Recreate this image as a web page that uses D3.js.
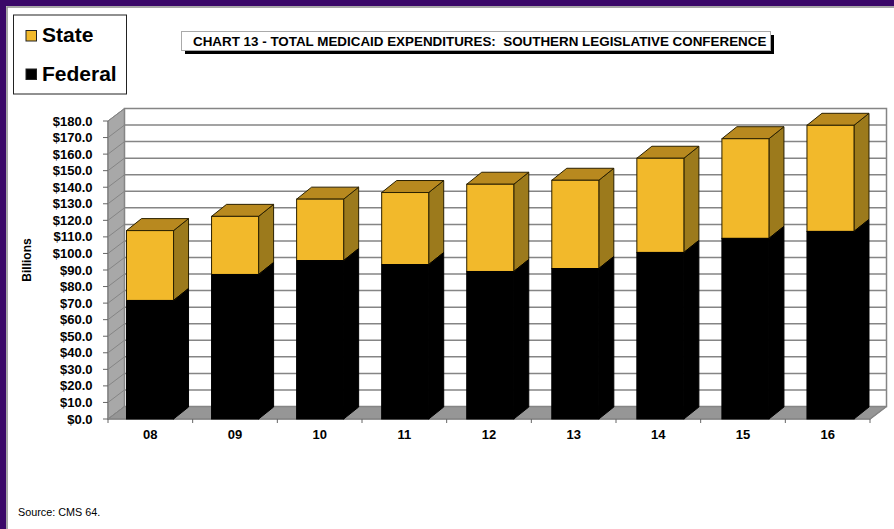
<!DOCTYPE html>
<html><head><meta charset="utf-8">
<script src="https://cdn.jsdelivr.net/npm/d3@7"></script>
<style>html,body{margin:0;padding:0;background:#fff}svg{display:block}text{font-family:"Liberation Sans",Arial,sans-serif;fill:#000}</style>
</head><body><svg id="c" width="894" height="529"></svg>
<script>
const categories = ["08","09","10","11","12","13","14","15","16"];
const federal = [71.6,87.3,95.7,93.3,89.1,90.9,100.6,109.1,113.3];
const total = [113.8,122.4,132.8,136.8,141.8,144.2,157.5,169.3,177.4];
const state = total.map((t,i)=>t-federal[i]);
const yTicks = d3.range(0,181,10);
const seriesNames = ["State","Federal"];

const svg = d3.select("#c");
const W=894,H=529;
const x = d3.scaleBand().domain(categories).range([108,872.5]).paddingInner(0.447).paddingOuter(0.2175);
const xAxis = d3.scaleBand().domain(categories).range([108,870]);
const y = d3.scaleLinear().domain([0,180]).range([419,121]);
const wallDx=16.5, wallDy=-12.5, barDx=15, barDy=-12;
const P=a=>"M"+a.map(p=>p.join(",")).join("L")+"Z";
const grid="#858585";

// page frame
svg.append("rect").attr("width",W).attr("height",6).attr("fill","#3a0868");
svg.append("rect").attr("width",6).attr("height",H).attr("fill","#3a0868");
svg.append("path").attr("d","M7,529V7H894").attr("fill","none").attr("stroke","#8a8a8a").attr("stroke-width",1.5);

// walls and floor
svg.append("path").attr("d",P([[108,y(0)],[108+wallDx,y(0)+wallDy],[108+wallDx,y(180)+wallDy],[108,y(180)]]))
  .attr("fill","#a8a8a8").attr("stroke",grid).attr("stroke-width",1);
svg.append("path").attr("d",P([[108,y(0)],[870,y(0)],[870+wallDx,y(0)+wallDy],[108+wallDx,y(0)+wallDy]]))
  .attr("fill","#969696").attr("stroke",grid).attr("stroke-width",1);
svg.append("rect").attr("x",108+wallDx).attr("y",y(180)+wallDy).attr("width",762).attr("height",y(0)-y(180))
  .attr("fill","#fff").attr("stroke",grid).attr("stroke-width",1.5);
svg.append("g").selectAll("line").data(yTicks.slice(1,-1)).join("line")
  .attr("x1",108+wallDx).attr("x2",870+wallDx).attr("y1",d=>y(d)+wallDy).attr("y2",d=>y(d)+wallDy)
  .attr("stroke",grid).attr("stroke-width",1.5);
svg.append("g").selectAll("line").data(yTicks).join("line")
  .attr("x1",108).attr("x2",108+wallDx).attr("y1",d=>y(d)).attr("y2",d=>y(d)+wallDy)
  .attr("stroke",grid).attr("stroke-width",1);

// axes
svg.append("path").attr("d",`M108,${y(180)}V${y(0)}H870L${870+wallDx},${y(0)+wallDy}`).attr("fill","none").attr("stroke",grid).attr("stroke-width",1.5);
svg.append("g").selectAll("line").data(yTicks).join("line")
  .attr("x1",103).attr("x2",108).attr("y1",d=>y(d)).attr("y2",d=>y(d)).attr("stroke","#666");
svg.append("g").selectAll("line").data(categories.concat(["end"])).join("line")
  .attr("x1",d=>d==="end"?870:xAxis(d)).attr("x2",d=>d==="end"?870:xAxis(d)).attr("y1",y(0)).attr("y2",y(0)+4).attr("stroke","#666");

svg.append("g").selectAll("text").data(yTicks).join("text")
  .attr("x",92.5).attr("y",d=>y(d)+4.5).attr("text-anchor","end")
  .attr("font-size",13).attr("font-weight","bold").text(d=>"$"+d.toFixed(1));
svg.append("g").selectAll("text").data(categories).join("text")
  .attr("x",c=>xAxis(c)+xAxis.bandwidth()/2).attr("y",439).attr("text-anchor","middle")
  .attr("font-size",13).attr("font-weight","bold").text(d=>d);

// bars
const bar=(g,x0,w,y1,y0,front,side,top,stroke)=>{
  g.append("path").attr("d",P([[x0+w,y0],[x0+w+barDx,y0+barDy],[x0+w+barDx,y1+barDy],[x0+w,y1]])).attr("fill",side).attr("stroke",stroke).attr("stroke-linejoin","round");
  g.append("path").attr("d",P([[x0,y1],[x0+w,y1],[x0+w+barDx,y1+barDy],[x0+barDx,y1+barDy]])).attr("fill",top).attr("stroke",stroke).attr("stroke-linejoin","round");
  g.append("rect").attr("x",x0).attr("y",y1).attr("width",w).attr("height",y0-y1).attr("fill",front).attr("stroke",stroke);
};
categories.forEach((c,i)=>{
  const g=svg.append("g");
  bar(g,x(c),x.bandwidth(),y(federal[i]),y(0),"#000","#000","#000","#000");
  bar(g,x(c),x.bandwidth(),y(federal[i]+state[i]),y(federal[i]),"#f2b92b","#9c7a1c","#b8891f","#2a2000");
  g.append("path").attr("d",`M${x(c)},${y(federal[i])}H${x(c)+x.bandwidth()}L${x(c)+x.bandwidth()+barDx},${y(federal[i])+barDy}`).attr("fill","none").attr("stroke","#000");
});

// title
svg.append("rect").attr("x",185).attr("y",35).attr("width",589).attr("height",19).attr("fill","#000");
svg.append("rect").attr("x",181.5).attr("y",31.5).attr("width",589).attr("height",19).attr("fill","#fff").attr("stroke","#aaa");
svg.append("text").attr("x",193).attr("y",46).attr("font-size",13.4).attr("font-weight","bold")
  .style("white-space","pre")
  .text("CHART 13 - TOTAL MEDICAID EXPENDITURES:  SOUTHERN LEGISLATIVE CONFERENCE");

// legend
svg.append("rect").attr("x",13.5).attr("y",15).attr("width",113).attr("height",79).attr("fill","#fff").attr("stroke","#222");
const legendFill=["#f2b92b","#000"];
seriesNames.forEach((n,i)=>{
  const yy=[30.5,69][i];
  svg.append("rect").attr("x",26).attr("y",yy).attr("width",10.5).attr("height",10.5).attr("fill",legendFill[i]).attr("stroke","#222");
  svg.append("text").attr("x",42).attr("y",[42,81][i]).attr("font-size",21).attr("font-weight","bold").text(n);
});

// other
svg.append("text").attr("transform","translate(31,260) rotate(-90)").attr("text-anchor","middle")
  .attr("font-size",12).attr("font-weight","bold").text("Billions");
svg.append("text").attr("x",18).attr("y",516).attr("font-size",10.8).text("Source: CMS 64.");
</script></body></html>
